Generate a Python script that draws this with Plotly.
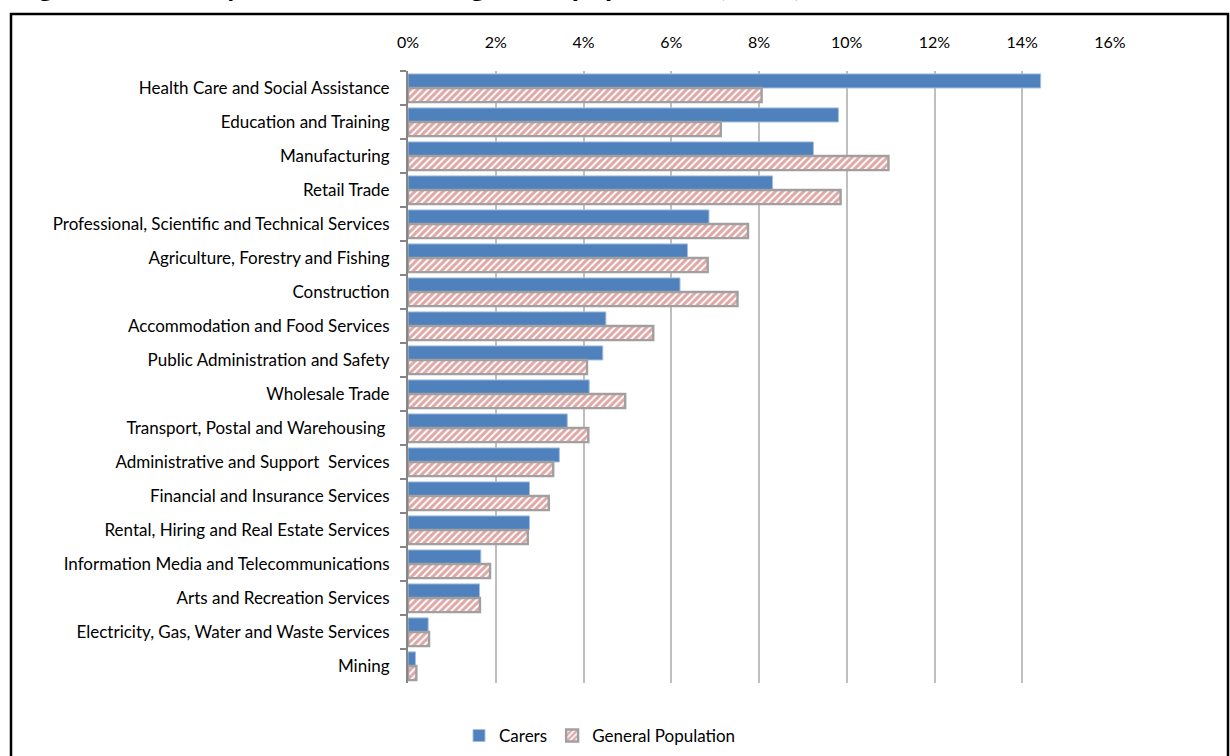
import plotly.graph_objects as go

categories = [
    "Health Care and Social Assistance",
    "Education and Training",
    "Manufacturing",
    "Retail Trade",
    "Professional, Scientific and Technical Services",
    "Agriculture, Forestry and Fishing",
    "Construction",
    "Accommodation and Food Services",
    "Public Administration and Safety",
    "Wholesale Trade",
    "Transport, Postal and Warehousing ",
    "Administrative and Support  Services",
    "Financial and Insurance Services",
    "Rental, Hiring and Real Estate Services",
    "Information Media and Telecommunications",
    "Arts and Recreation Services",
    "Electricity, Gas, Water and Waste Services",
    "Mining",
]
carers = [14.42, 9.81, 9.24, 8.31, 6.86, 6.37, 6.20, 4.51, 4.44, 4.13,
          3.63, 3.45, 2.77, 2.77, 1.66, 1.63, 0.46, 0.17]
general_population = [8.06, 7.13, 10.95, 9.86, 7.75, 6.83, 7.51, 5.59, 4.08, 4.95,
                      4.11, 3.31, 3.21, 2.73, 1.87, 1.64, 0.48, 0.19]
x_ticks = [0, 2, 4, 6, 8, 10, 12, 14, 16]
x_tick_labels = [f"{v}%" for v in x_ticks]
title_text = "Figure 5: Industry of carers and the general population (2011)"

W, H = 1230, 756
L, R, T, B = 408, 120, 71, 73
pw, ph = W - L - R, H - T - B

def px(x):
    return (x - L) / pw

def py(y):
    return (H - B - y) / ph

font = "Lato, 'Open Sans', sans-serif"

fig = go.Figure()
fig.add_trace(go.Bar(
    y=categories, x=carers, orientation="h", name="Carers",
    marker=dict(color="#4F81BD", line=dict(color="#A7BFDE", width=1)),
))
fig.add_trace(go.Bar(
    y=categories, x=general_population, orientation="h", name="General Population",
    marker=dict(
        color="white",
        line=dict(color="#A0A0A0", width=2.4),
        pattern=dict(shape="/", fgcolor="#C0504D", bgcolor="white", size=5, solidity=0.6),
    ),
))

fig.update_layout(
    width=W, height=H,
    margin=dict(l=L, r=R, t=T, b=B, autoexpand=False),
    paper_bgcolor="white", plot_bgcolor="white",
    barmode="group", bargap=0.17, bargroupgap=0.0,
    font=dict(family=font, size=17, color="black"),
    showlegend=True,
    legend=dict(orientation="h", x=px(600), y=py(736), xanchor="center", yanchor="middle",
                font=dict(size=17), itemwidth=30, traceorder="normal"),
    xaxis=dict(
        side="top", range=[0, 16], tickvals=x_ticks, ticktext=x_tick_labels,
        showgrid=True, gridcolor="#BFBFBF", gridwidth=2,
        zeroline=False, showline=False, ticks="", ticklabelstandoff=19,
        tickfont=dict(size=16), fixedrange=True,
    ),
    yaxis=dict(
        autorange="reversed", type="category",
        showline=True, linecolor="#868686", linewidth=2,
        ticks="outside", tickson="boundaries", ticklen=6, tickcolor="#868686", tickwidth=2,
        ticklabelstandoff=13, showgrid=False, tickfont=dict(size=17),
    ),
    shapes=[dict(type="rect", xref="paper", yref="paper",
                 x0=px(11), x1=px(1228), y0=py(770), y1=py(14),
                 line=dict(color="black", width=2.5), fillcolor="rgba(0,0,0,0)", layer="below")],
    annotations=[dict(text=f"<b>{title_text}</b>", xref="paper", yref="paper",
                      x=px(12), y=py(4), xanchor="left", yanchor="bottom",
                      showarrow=False, font=dict(size=29, family=font, color="black"))],
)

fig.write_html("out.html", config={"displayModeBar": False},
               post_script="document.body.style.margin='0px';")
